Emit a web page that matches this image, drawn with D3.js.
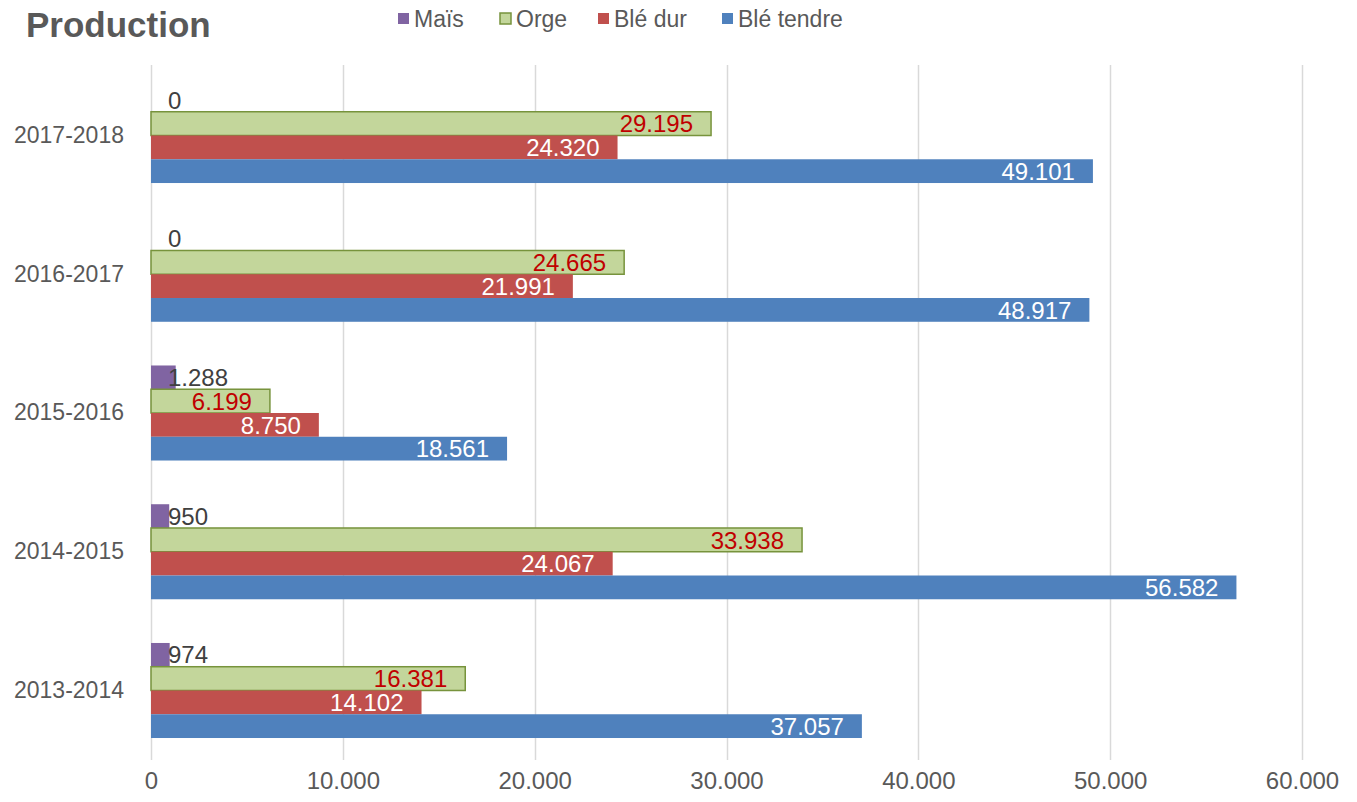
<!DOCTYPE html>
<html><head><meta charset="utf-8">
<script src="https://cdn.jsdelivr.net/npm/d3@7"></script>
<style>body{margin:0;background:#fff;}svg{display:block;}</style>
</head><body>
<svg id="chart" width="1357" height="802"></svg>
<script>
const categories = ["2017-2018","2016-2017","2015-2016","2014-2015","2013-2014"];
const seriesNames = ["Maïs","Orge","Blé dur","Blé tendre"];
const mais = [0, 0, 1288, 950, 974];
const orge = [29195, 24665, 6199, 33938, 16381];
const bleDur = [24320, 21991, 8750, 24067, 14102];
const bleTendre = [49101, 48917, 18561, 56582, 37057];
const tickValues = [0,10000,20000,30000,40000,50000,60000];
const tickLabels = ["0","10.000","20.000","30.000","40.000","50.000","60.000"];
const title = "Production";

const seriesValues = [mais, orge, bleDur, bleTendre];
const fills = ["#8064A2","#C3D69B","#C0504D","#4F81BD"];
const strokes = ["none","#77933C","none","none"];
const labelColors = ["#404040","#C00000","#FFFFFF","#FFFFFF"];

const svg = d3.select("#chart");
const font = "'Liberation Sans', Arial, sans-serif";
const x = d3.scaleLinear().domain([0,60000]).range([151,1302]);
const y = d3.scaleBand().domain(categories).range([64.4,761.6]).paddingInner(0.315).paddingOuter(0.17);
const ys = d3.scaleBand().domain(seriesNames).range([0,y.bandwidth()]);

// gridlines
svg.append("g").selectAll("line").data(tickValues).join("line")
  .attr("x1",d=>Math.round(x(d))+0.5).attr("x2",d=>Math.round(x(d))+0.5)
  .attr("y1",65).attr("y2",760)
  .attr("stroke","#D9D9D9").attr("stroke-width",1.5);

// x axis labels
const xAxis = d3.axisBottom(x).tickValues(tickValues).tickFormat((d,i)=>tickLabels[i]).tickSize(0).tickPadding(0);
const gx = svg.append("g").attr("transform","translate(0,772)").call(xAxis);
gx.select(".domain").remove();
gx.selectAll("text").attr("font-family","'Liberation Sans Narrow', 'Liberation Sans', sans-serif")
  .attr("font-size",24).attr("fill","#595959").attr("dy","0.71em");

// y axis labels
const yAxis = d3.axisLeft(y).tickSize(0).tickPadding(27);
const gy = svg.append("g").attr("transform",`translate(${x(0)},0)`).call(yAxis);
gy.select(".domain").remove();
gy.selectAll("text").attr("font-family",font).attr("font-size",23).attr("fill","#595959");

// bars
const rows = [];
categories.forEach((c,i)=>seriesNames.forEach((s,j)=>rows.push({c,s,j,v:seriesValues[j][i]})));
const g = svg.append("g");
g.selectAll("rect").data(rows).join("rect")
  .attr("x",x(0))
  .attr("y",d=>y(d.c)+ys(d.s))
  .attr("width",d=>x(d.v)-x(0))
  .attr("height",ys.bandwidth())
  .attr("fill",d=>fills[d.j])
  .attr("stroke",d=>d.v>0?strokes[d.j]:"none")
  .attr("stroke-width",1.5);

const fmt = v => v.toLocaleString("de-DE");
g.selectAll("text").data(rows).join("text")
  .attr("x",d=>d.j===0 ? x(0)+17 : x(d.v)-18)
  .attr("y",d=>y(d.c)+ys(d.s)+ys.bandwidth()/2)
  .attr("dy","0.36em")
  .attr("text-anchor",d=>d.j===0?"start":"end")
  .attr("font-family",font).attr("font-size",24)
  .attr("fill",d=>labelColors[d.j])
  .text(d=>fmt(d.v));

// title
svg.append("text").attr("x",26).attr("y",37).attr("font-family",font).attr("font-weight","bold")
  .attr("font-size",35).attr("fill","#595959").text(title);

// legend
const legendX = [398,500,598,722];
const lg = svg.append("g").selectAll("g").data(seriesNames).join("g")
  .attr("transform",(d,i)=>`translate(${legendX[i]},0)`);
lg.append("rect").attr("x",0).attr("y",13).attr("width",11).attr("height",11)
  .attr("fill",(d,i)=>fills[i]).attr("stroke",(d,i)=>strokes[i]).attr("stroke-width",1.5);
lg.append("text").attr("x",16).attr("y",19).attr("dy","0.36em")
  .attr("font-family",font).attr("font-size",23).attr("fill","#595959").text(d=>d);
</script>
</body></html>
